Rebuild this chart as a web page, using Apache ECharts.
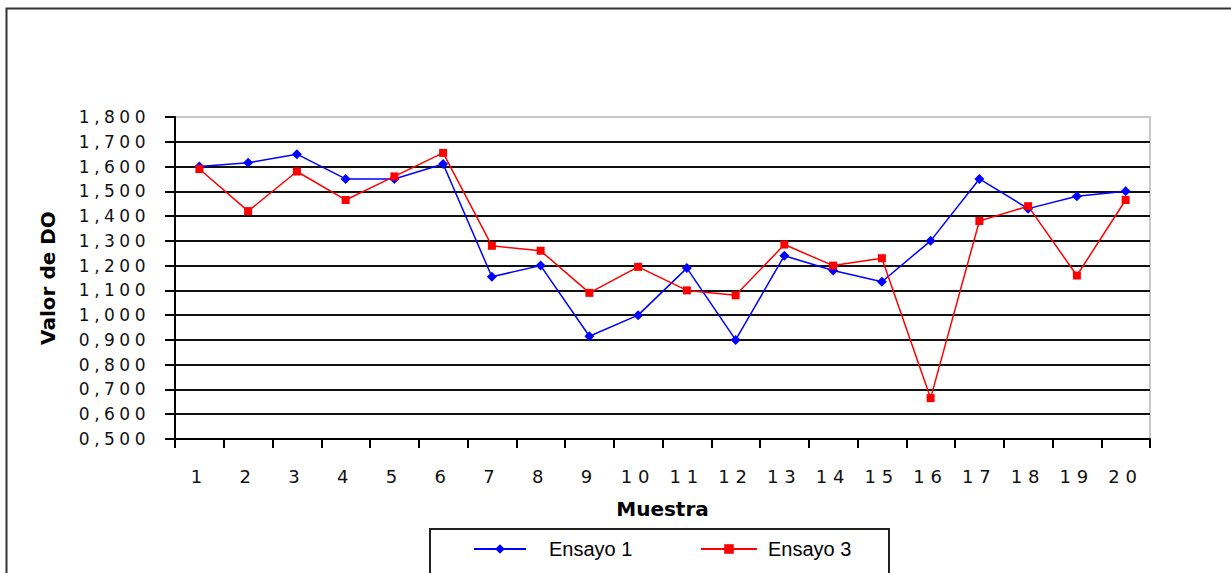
<!DOCTYPE html>
<html>
<head>
<meta charset="utf-8">
<script src="https://cdn.jsdelivr.net/npm/echarts@6/dist/echarts.min.js"></script>
<style>
  html, body { margin: 0; padding: 0; background: #fff; }
  #chart { width: 1231px; height: 573px; }
  /* widen the tick label lettering */
  #chart text[style*="17px"] { letter-spacing: 4.5px; }
  #chart text[style*="18px"] { letter-spacing: 6px; }
</style>
</head>
<body>
<div id="chart"></div>
<script>
// Muestra 1..20
const categories = ['1', '2', '3', '4', '5', '6', '7', '8', '9', '10',
                    '11', '12', '13', '14', '15', '16', '17', '18', '19', '20'];

// Valor de DO por muestra
const ensayo1 = [1.600, 1.615, 1.650, 1.550, 1.550, 1.610, 1.155, 1.200, 0.915, 1.000,
                 1.190, 0.900, 1.240, 1.180, 1.135, 1.300, 1.550, 1.430, 1.480, 1.500];
const ensayo3 = [1.590, 1.420, 1.580, 1.465, 1.560, 1.655, 1.280, 1.260, 1.090, 1.195,
                 1.100, 1.080, 1.285, 1.200, 1.230, 0.665, 1.380, 1.440, 1.160, 1.465];

const yMin = 0.5, yMax = 1.8, yStep = 0.1;
const fmtTick = v => v.toFixed(3).replace('.', ',');

const chart = echarts.init(document.getElementById('chart'), null, { renderer: 'svg' });

chart.setOption({
  backgroundColor: '#ffffff',
  animation: false,
  grid: {
    left: 175, right: 81, top: 117, bottom: 134,
    show: true, borderColor: '#c8c8c8', borderWidth: 2, backgroundColor: 'transparent'
  },
  xAxis: {
    type: 'category',
    data: categories,
    boundaryGap: true,
    name: 'Muestra',
    nameLocation: 'middle',
    nameGap: 60,
    nameTextStyle: { fontFamily: 'DejaVu Sans', fontWeight: 'bold', fontSize: 20, color: '#000' },
    axisLine: { lineStyle: { color: '#000', width: 2 } },
    axisTick: { show: true, length: 9, lineStyle: { color: '#000', width: 2 } },
    axisLabel: { interval: 0, margin: 28, fontFamily: 'DejaVu Sans', fontSize: 18, color: '#111' },
    splitLine: { show: false }
  },
  yAxis: {
    type: 'value',
    min: yMin, max: yMax, interval: yStep,
    name: 'Valor de DO',
    nameLocation: 'middle',
    nameGap: 117,
    nameRotate: 90,
    nameTextStyle: { fontFamily: 'DejaVu Sans', fontWeight: 'bold', fontSize: 20, color: '#000' },
    axisLine: { show: true, lineStyle: { color: '#000', width: 2 } },
    axisTick: { show: true, length: 10, lineStyle: { color: '#000', width: 2 } },
    axisLabel: {
      margin: 25, fontFamily: 'DejaVu Sans', fontSize: 17, color: '#111',
      padding: [0, 0, 8, 0],
      formatter: fmtTick
    },
    splitLine: { show: true, showMaxLine: false, lineStyle: { color: '#111', width: 2 } }
  },
  legend: [
    {
      data: ['Ensayo 1'], left: 473, top: 539, padding: 0,
      itemWidth: 52, itemHeight: 12,
      textStyle: { fontFamily: 'Liberation Sans', fontSize: 20, color: '#000', padding: [0, 0, 0, 18] }
    },
    {
      data: ['Ensayo 3'], left: 700, top: 539, padding: 0,
      itemWidth: 56, itemHeight: 12,
      textStyle: { fontFamily: 'Liberation Sans', fontSize: 20, color: '#000', padding: [0, 0, 0, 6] }
    }
  ],
  graphic: [
    {
      type: 'rect', z: 100, silent: true,
      shape: { x: 6.5, y: 8.5, width: 1400, height: 800 },
      style: { fill: 'none', stroke: '#333', lineWidth: 2 }
    },
    {
      type: 'rect', z: 100, silent: true,
      shape: { x: 430, y: 529, width: 459, height: 80 },
      style: { fill: 'none', stroke: '#222', lineWidth: 2 }
    }
  ],
  series: [
    {
      name: 'Ensayo 1', type: 'line', data: ensayo1,
      symbol: 'diamond', symbolSize: 10, showAllSymbol: true,
      lineStyle: { color: '#0000ff', width: 1.5 },
      itemStyle: { color: '#0000ff' }
    },
    {
      name: 'Ensayo 3', type: 'line', data: ensayo3,
      symbol: 'rect', symbolSize: 8, showAllSymbol: true,
      lineStyle: { color: '#ff0000', width: 1.5 },
      itemStyle: { color: '#ff0000' }
    }
  ]
});
</script>
</body>
</html>
